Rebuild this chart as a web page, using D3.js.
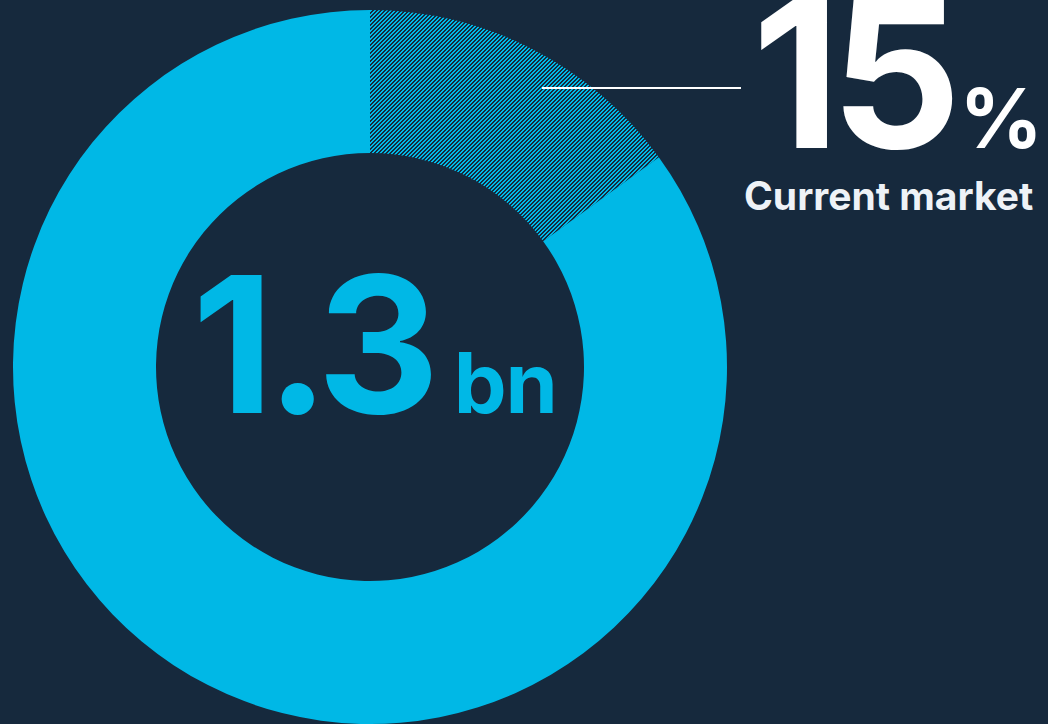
<!DOCTYPE html>
<html>
<head>
<meta charset="utf-8">
<script src="https://cdn.jsdelivr.net/npm/d3@7"></script>
<style>
  html, body { margin: 0; padding: 0; background: #16293d; }
  svg { display: block; }
  text { font-family: Inter, "Liberation Sans", sans-serif; font-weight: 700; }
</style>
</head>
<body>
<svg id="chart" width="1048" height="724"></svg>
<script>
// Market share split of a 1.3bn total
const segments = ["Current market", "Remaining"];
const shares = [15, 85];
const totalValue = "1.3";
const totalUnit = "bn";
const shareLabel = "15";
const shareUnit = "%";

const W = 1048, H = 724;
const cx = 370, cy = 367;
const outerR = 357, innerR = 214;
const cyan = "#00b8e6";
const bg = "#16293d";

const svg = d3.select("#chart");
svg.append("rect").attr("width", W).attr("height", H).attr("fill", bg);

// pixel-stepped diagonal hatch for the highlighted slice
const defs = svg.append("defs");
const P = 4;
const pat = defs.append("pattern")
  .attr("id", "hatch")
  .attr("patternUnits", "userSpaceOnUse")
  .attr("width", P).attr("height", P);
pat.append("rect").attr("width", P).attr("height", P).attr("fill", bg);
d3.range(P).forEach(row => {
  [0, 1].forEach(k => {
    const col = ((P - 1 - row + k) % P + P) % P;
    pat.append("rect")
      .attr("x", col).attr("y", row)
      .attr("width", 1).attr("height", 1)
      .attr("fill", cyan)
      .attr("shape-rendering", "crispEdges");
  });
});

const data = segments.map((s, i) => ({ name: s, value: shares[i] }));
const pie = d3.pie().value(d => d.value).sort(null);
const arc = d3.arc().innerRadius(innerR).outerRadius(outerR);

const g = svg.append("g").attr("transform", `translate(${cx},${cy})`);
g.selectAll("path")
  .data(pie(data))
  .join("path")
  .attr("d", arc)
  .attr("fill", (d, i) => i === 0 ? "url(#hatch)" : cyan);

// leader line from the hatched slice to the label
svg.append("line")
  .attr("x1", 542).attr("x2", 741)
  .attr("y1", 88).attr("y2", 88)
  .attr("stroke", "#ffffff").attr("stroke-width", 2);

// headline share
const share = svg.append("text")
  .attr("x", 752).attr("y", 148)
  .attr("fill", "#ffffff")
  .attr("letter-spacing", -10);
share.append("tspan").attr("font-size", 205).text(shareLabel);
share.append("tspan").attr("font-size", 82).attr("dx", 8).attr("letter-spacing", 0).text(shareUnit);

svg.append("text")
  .attr("x", 744).attr("y", 210)
  .attr("fill", "#eef2f7")
  .attr("font-size", 39)
  .attr("letter-spacing", 0)
  .text(segments[0]);

// total in the centre
const total = svg.append("text")
  .attr("x", 192).attr("y", 413)
  .attr("fill", cyan)
  .attr("letter-spacing", -8);
total.append("tspan").attr("font-size", 190).text(totalValue);
total.append("tspan").attr("font-size", 84).attr("dx", 22).attr("letter-spacing", -1).text(totalUnit);
</script>
</body>
</html>
